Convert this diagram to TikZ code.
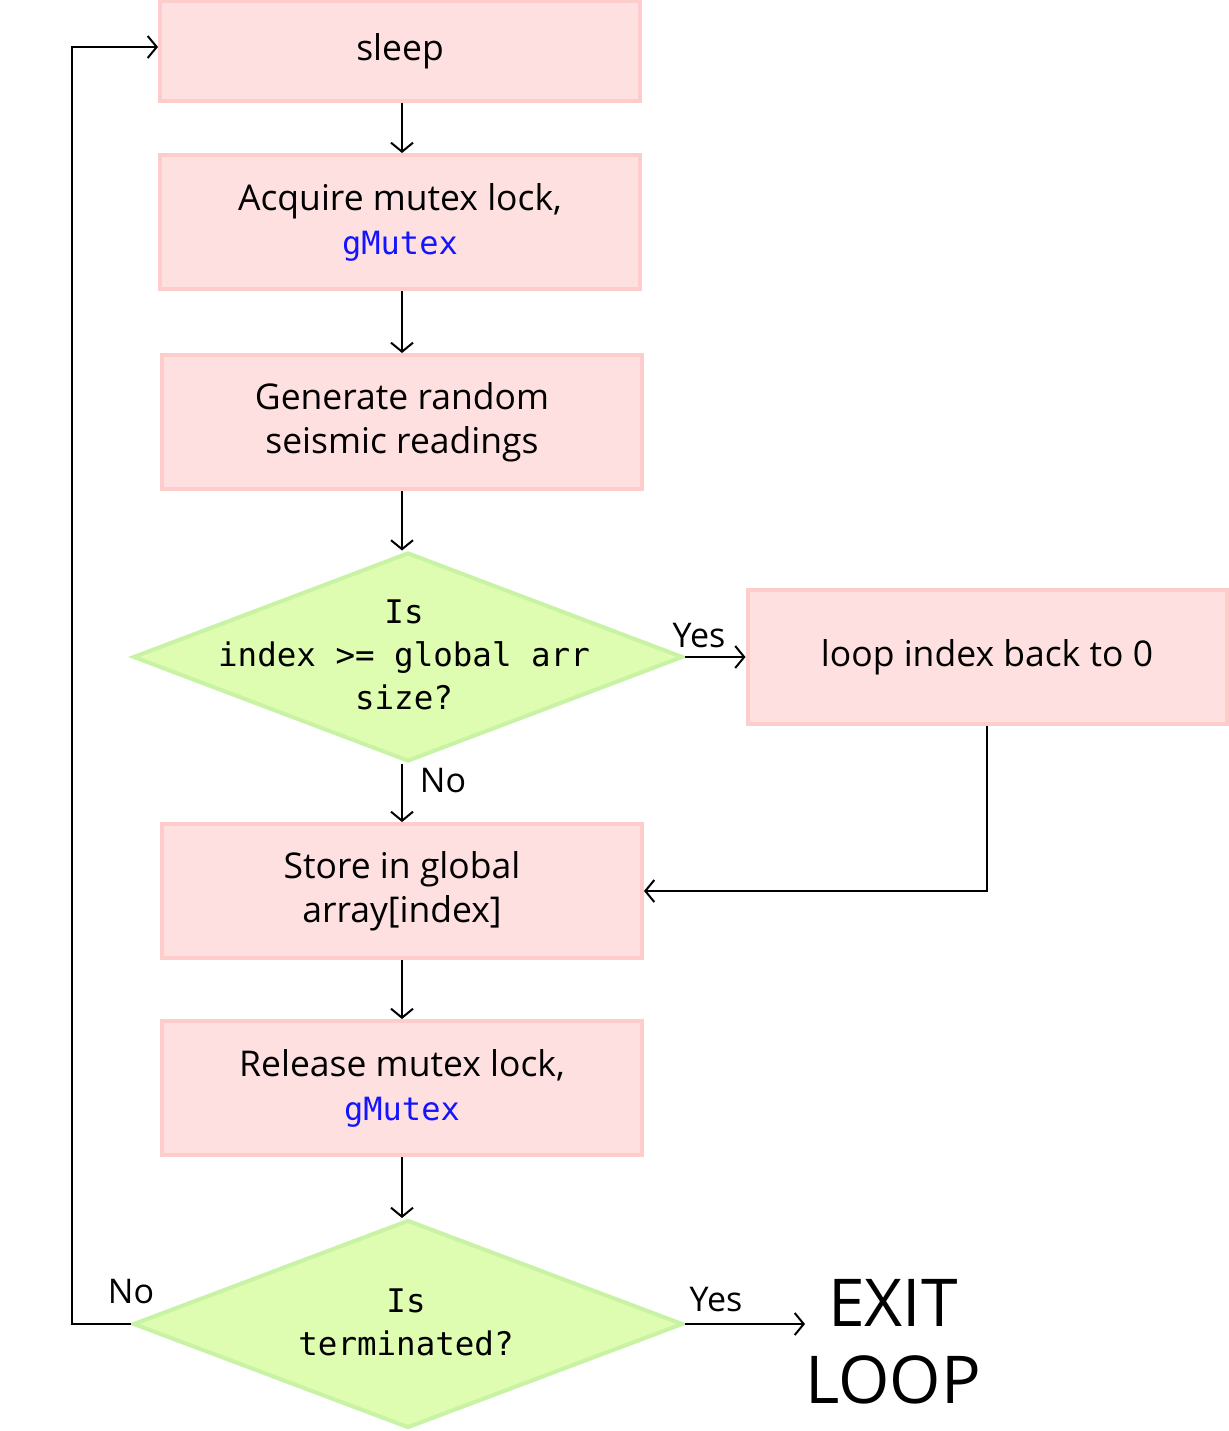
\documentclass[tikz,border=0pt]{standalone}
\usepackage{fontspec}
\setmainfont{Open Sans}
\newfontfamily\codefont{DejaVu Sans Mono}
\usetikzlibrary{arrows.meta,shapes.geometric}
\definecolor{boxfill}{HTML}{FFE0E0}
\definecolor{boxline}{HTML}{FFCCCC}
\definecolor{decfill}{HTML}{DFFDB0}
\definecolor{decline}{HTML}{C8F2A4}
\definecolor{codeblue}{HTML}{1414FF}
\tikzset{
  stepbox/.style={draw=boxline, fill=boxfill, line width=4pt, rectangle,
    minimum width=480pt, minimum height=134pt, inner sep=0pt, align=center,
    font=\fontsize{35.5}{44}\selectfont},
  decbox/.style={draw=decline, fill=decfill, line width=4pt, diamond,
    minimum width=550pt, minimum height=209pt, inner sep=0pt},
  dectext/.style={align=center, font=\codefont\fontsize{32.5}{43}\selectfont},
  conn/.style={draw=black, line width=2pt, -{Straight Barb[length=9pt,width=22pt,line width=2pt]}},
  lbl/.style={font=\fontsize{34}{40}\selectfont, inner sep=0pt},
}
\newcommand{\code}[1]{{\codefont\fontsize{32}{44}\selectfont\color{codeblue}#1}}
\begin{document}
\begin{tikzpicture}[x=1pt,y=-1pt]
\useasboundingbox (0,0) rectangle (1228,1431);
\node[stepbox, minimum height=100pt] (sleep) at (400,51) {sleep};
\node[stepbox] (acq) at (400,222) {Acquire mutex lock,\\\code{gMutex}};
\node[stepbox] (gen) at (402,422) {Generate random\\seismic readings};
\node[decbox] (d1) at (408,657) {};
\node[dectext] (d1t) at (404,655) {Is\\index >= global arr\\size?};
\node[stepbox, minimum width=479pt] (loopb) at (987,657) {loop index back to 0};
\node[stepbox] (store) at (402,891) {Store in global\\array[index]};
\node[stepbox] (rel) at (402,1088) {Release mutex lock,\\\code{gMutex}};
\node[decbox, minimum height=208pt] (d2) at (408,1324) {};
\node[dectext] (d2t) at (406,1322) {Is\\terminated?};
\node[font=\fontsize{66}{77}\selectfont, align=center, inner sep=0pt] (exit) at (893,1342) {EXIT\\LOOP};
\coordinate (exitin) at (805,1325);
\coordinate (c1) at (72,1325);
\coordinate (c2) at (72,47);
\coordinate (c3) at (987,891);

\draw[conn] (sleep.south -| 402,0) -- (acq.north -| 402,0);
\draw[conn] (acq.south -| 402,0) -- (gen.north -| 402,0);
\draw[conn] (gen.south -| 402,0) -- (d1.north -| 402,0);
\draw[conn] (d1.east) -- (loopb.west);
\draw[conn] (d1.south -| 402,0) -- (store.north -| 402,0);
\draw[conn] (loopb.south) -- (c3) -- (store.east);
\draw[conn] (store.south -| 402,0) -- (rel.north -| 402,0);
\draw[conn] (rel.south -| 402,0) -- (d2.north -| 402,0);
\draw[conn] (d2.east) -- (d2.east -| exitin);
\draw[conn] (d2.west) -- (c1 |- d2.west) -- (c2) -- (sleep.west |- c2);
\node[lbl] (yes1) at (699,636) {Yes};
\node[lbl] (no1) at (443,781) {No};
\node[lbl] (yes2) at (716,1300) {Yes};
\node[lbl] (no2) at (131,1292) {No};
\end{tikzpicture}
\end{document}
